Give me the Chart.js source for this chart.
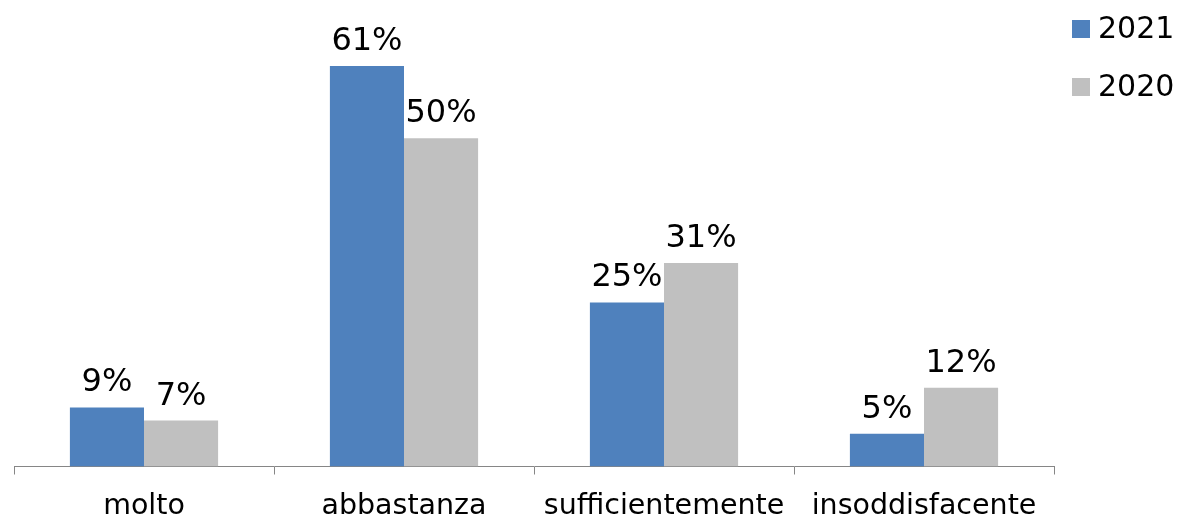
<!DOCTYPE html>
<html>
<head>
<meta charset="utf-8">
<script src="https://cdn.jsdelivr.net/npm/chart.js@4/dist/chart.umd.min.js"></script>
<style>
  html, body { margin: 0; padding: 0; background: #fff; }
  #wrap { width: 1180px; height: 519px; }
</style>
</head>
<body>
<div id="wrap"><canvas id="myBarChart"></canvas></div>
<script>
const categories = ["molto", "abbastanza", "sufficientemente", "insoddisfacente"];
const seriesNames = ["2021", "2020"];
const values2021 = [9, 61, 25, 5];
const values2020 = [7, 50, 31, 12];

const FONT = '"DejaVu Sans", Verdana, sans-serif';

// value labels above each bar
const barLabels = {
  id: 'barLabels',
  afterDatasetsDraw(chart) {
    const ctx = chart.ctx;
    ctx.save();
    ctx.font = '32px ' + FONT;
    ctx.fillStyle = '#000';
    ctx.textAlign = 'center';
    ctx.textBaseline = 'alphabetic';
    chart.data.datasets.forEach((ds, i) => {
      chart.getDatasetMeta(i).data.forEach((bar, j) => {
        ctx.fillText(ds.data[j] + '%', bar.x, bar.y - 16);
      });
    });
    ctx.restore();
  }
};

// legend at the top right, squares + year
const sideLegend = {
  id: 'sideLegend',
  afterDraw(chart) {
    const ctx = chart.ctx;
    const left = chart.chartArea.right + 18;
    ctx.save();
    ctx.font = '30px ' + FONT;
    ctx.textAlign = 'left';
    ctx.textBaseline = 'middle';
    chart.data.datasets.forEach((ds, i) => {
      const cy = 29 + i * 58;
      ctx.fillStyle = ds.backgroundColor;
      ctx.fillRect(left, cy - 9, 18, 18);
      ctx.fillStyle = '#000';
      ctx.fillText(ds.label, left + 26, cy + 1);
    });
    ctx.restore();
  }
};

const ctx = document.getElementById('myBarChart').getContext('2d');
const myBarChart = new Chart(ctx, {
  type: 'bar',
  data: {
    labels: categories,
    datasets: [
      { label: seriesNames[0], data: values2021, backgroundColor: '#4F81BD' },
      { label: seriesNames[1], data: values2020, backgroundColor: '#C0C0C0' },
    ],
  },
  options: {
    responsive: true,
    maintainAspectRatio: false,
    animation: false,
    categoryPercentage: 0.57,
    barPercentage: 1.0,
    layout: {
      padding: { left: 14, top: 7, right: 126, bottom: -20 },
    },
    plugins: {
      tooltip: { enabled: false },
      legend: { display: false },
    },
    scales: {
      x: {
        grid: {
          display: true,
          drawOnChartArea: false,
          drawTicks: true,
          tickLength: 8,
          color: '#868686',
          offset: true,
        },
        border: { display: true, color: '#868686', width: 1 },
        ticks: {
          color: '#000',
          padding: 18,
          font: { size: 28.5, family: FONT, lineHeight: 1 },
        },
      },
      y: {
        display: false,
        min: 0,
        max: 70,
      },
    },
  },
  plugins: [barLabels, sideLegend],
});
</script>
</body>
</html>
